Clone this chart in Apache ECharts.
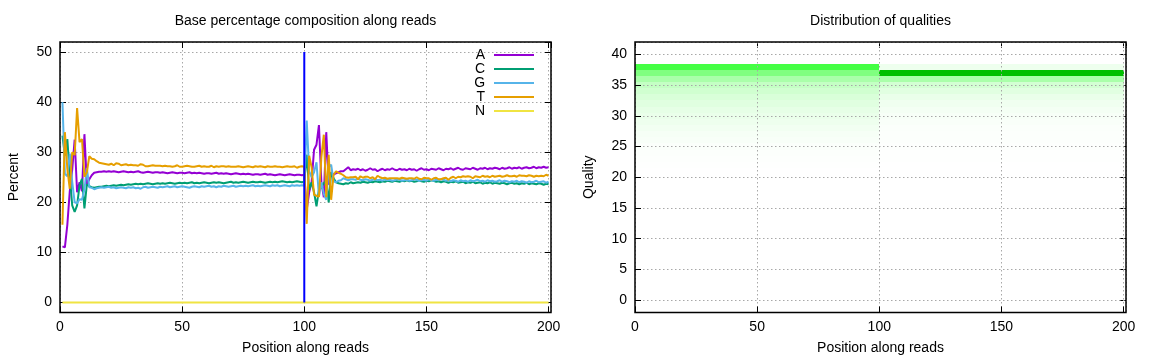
<!DOCTYPE html>
<html><head><meta charset="utf-8">
<script src="https://cdn.jsdelivr.net/npm/echarts@6/dist/echarts.min.js"></script>
<style>html,body{margin:0;padding:0;background:#fff}#c{width:1152px;height:360px}</style>
</head><body><div id="c"></div>
<script>
// ---------- data ----------
const bases = ['A', 'C', 'G', 'T', 'N'];
const baseColors = ['#9400d3', '#009e73', '#56b4e9', '#e69f00', '#f0e442'];

const pctA = [
 11.2,11.0,15.5,22.2,26.5,32.5,22.0,24.0,22.2,33.6,23.6,24.6,25.4,25.9,26.0,26.1,26.1,26.2,26.1,26.2,
 26.1,26.2,26.1,26.0,26.1,26.2,26.1,26.0,26.1,26.0,26.1,26.2,26.0,25.9,26.0,26.1,26.0,25.9,26.0,26.0,
 25.9,26.0,25.9,25.8,25.9,26.0,25.9,25.8,25.9,25.9,25.8,25.9,26.0,25.8,25.9,25.8,25.9,25.8,25.7,25.8,
 25.8,25.7,25.8,25.9,25.7,25.8,25.7,25.8,25.7,25.6,25.7,25.8,25.7,25.6,25.7,25.6,25.7,25.6,25.5,25.6,
 25.6,25.5,25.6,25.7,25.5,25.6,25.5,25.4,25.5,25.6,25.5,25.4,25.5,25.6,25.5,25.4,25.5,25.5,25.4,25.5,
 18.5,22.0,24.0,30.5,31.5,35.4,24.0,21.0,34.0,23.5,26.0,25.5,25.8,26.0,26.2,26.2,26.6,27.0,26.4,26.6,
 26.5,26.7,26.4,26.6,26.3,26.5,26.8,26.5,26.6,26.2,26.5,26.7,26.4,26.6,26.5,26.8,26.5,26.4,26.7,26.5,
 26.6,26.4,26.7,26.5,26.6,26.3,26.6,26.8,26.5,26.6,26.4,26.7,26.6,26.5,26.8,26.6,26.4,26.7,26.6,26.8,
 26.5,26.7,26.9,26.6,26.5,26.8,26.7,26.6,26.9,26.7,26.5,26.8,26.7,26.9,26.6,26.8,26.7,26.9,26.8,26.6,
 26.9,26.7,26.8,27.0,26.7,26.9,26.8,27.0,26.7,26.9,27.0,26.8,26.9,27.1,26.8,27.0,26.9,27.1,26.9,27.0
];
const pctC = [
 33.3,29.3,32.6,25.4,19.4,18.1,19.4,23.4,24.7,18.8,23.6,23.2,23.0,22.9,23.0,23.1,23.1,23.2,23.3,23.2,
 23.3,23.4,23.3,23.4,23.5,23.4,23.5,23.6,23.5,23.6,23.7,23.6,23.7,23.6,23.7,23.8,23.7,23.6,23.7,23.8,
 23.7,23.8,23.7,23.8,23.9,23.8,23.7,23.8,23.9,23.8,23.9,23.8,23.9,24.0,23.8,23.9,23.8,23.9,24.0,23.9,
 23.8,23.9,24.0,23.9,24.0,23.9,23.8,23.9,24.0,24.1,23.9,24.0,23.9,24.0,24.1,24.0,23.9,24.0,24.1,24.0,
 24.0,24.1,24.0,23.9,24.0,24.1,24.0,24.1,24.0,24.1,24.2,24.1,24.0,24.1,24.0,24.1,24.2,24.1,24.0,24.1,
 29.5,22.5,24.0,22.0,19.2,22.5,23.0,23.8,24.5,20.0,26.0,24.8,24.0,23.8,23.7,23.6,23.8,23.7,24.0,23.8,
 23.9,24.0,23.9,24.1,24.0,23.9,24.1,24.0,24.2,24.1,24.0,24.2,24.1,24.3,24.2,24.1,24.3,24.2,24.1,24.3,
 24.2,24.4,24.2,24.3,24.1,24.2,24.4,24.2,24.1,24.3,24.2,24.4,24.3,24.1,24.2,24.0,24.2,24.1,23.9,24.1,
 24.0,24.2,23.9,24.0,24.1,23.8,24.0,23.9,24.1,23.8,23.9,24.0,23.7,23.9,23.8,24.0,23.7,23.9,23.8,23.7,
 23.9,23.8,23.6,23.8,23.9,23.7,23.8,23.6,23.8,23.7,23.9,23.6,23.8,23.7,23.6,23.8,23.7,23.5,23.7,23.6
];
const pctG = [
 40.0,25.7,25.2,29.7,24.1,20.0,19.8,20.6,20.5,22.5,26.8,23.0,22.9,22.6,22.8,22.9,23.0,22.9,23.0,23.1,
 22.9,23.0,22.8,22.9,23.0,22.9,22.8,23.0,22.9,23.0,22.8,22.9,22.7,23.0,23.1,22.9,23.0,23.1,23.0,22.9,
 23.1,23.0,23.1,23.2,23.0,23.1,23.2,23.0,23.1,23.2,23.1,23.0,22.9,23.1,23.2,23.1,23.0,23.2,23.1,23.2,
 23.3,23.1,23.2,23.0,23.2,23.1,23.3,23.2,23.1,23.2,23.3,23.1,23.2,23.3,23.2,23.3,23.2,23.3,23.4,23.2,
 23.3,23.2,23.3,23.4,23.3,23.2,23.4,23.3,23.4,23.2,23.3,23.4,23.3,23.2,23.4,23.3,23.4,23.3,23.4,23.3,
 36.3,26.2,25.0,26.0,28.0,21.1,24.0,21.7,20.5,27.0,27.5,24.2,24.0,24.3,24.4,24.8,24.6,24.4,24.6,24.6,
 24.5,24.7,24.5,24.4,24.6,24.5,24.3,24.5,24.6,24.4,24.5,24.3,24.6,24.4,24.5,24.3,24.4,24.6,24.5,24.3,
 24.4,24.5,24.3,24.4,24.6,24.5,24.3,24.4,24.5,24.3,24.6,24.4,24.3,24.5,24.4,24.6,24.5,24.3,24.4,24.2,
 24.4,24.3,24.1,24.4,24.2,24.3,24.1,24.4,24.2,24.3,24.5,24.2,24.3,24.1,24.4,24.2,24.3,24.1,24.2,24.4,
 24.1,24.3,24.2,24.0,24.2,24.1,24.3,24.0,24.2,24.1,23.9,24.2,24.0,24.1,24.3,24.0,24.1,24.2,23.9,24.1
];
const pctT = [
 15.5,34.0,26.7,22.7,30.0,29.4,38.8,32.0,32.6,25.1,26.0,29.2,28.7,28.6,28.2,27.9,27.8,27.7,27.6,27.5,
 27.7,27.4,27.8,27.7,27.4,27.5,27.6,27.4,27.5,27.4,27.4,27.3,27.6,27.5,27.2,27.2,27.3,27.4,27.3,27.3,
 27.3,27.2,27.3,27.2,27.2,27.1,27.2,27.4,27.1,27.1,27.2,27.3,27.2,27.1,27.1,27.2,27.3,27.1,27.2,27.1,
 27.1,27.3,27.0,27.2,27.1,27.2,27.2,27.1,27.2,27.1,27.1,27.1,27.2,27.1,27.0,27.1,27.2,27.1,27.0,27.2,
 27.1,27.2,27.1,27.0,27.2,27.1,27.1,27.2,27.1,27.1,27.0,27.1,27.2,27.1,27.1,27.2,26.9,27.1,27.2,27.1,
 15.7,29.3,27.0,21.5,21.3,21.1,29.0,33.5,21.0,29.5,20.5,25.5,26.2,25.9,25.7,25.4,25.0,24.9,25.0,25.0,
 25.1,24.6,25.2,24.9,25.1,25.1,24.8,25.0,24.6,25.3,25.0,24.8,24.9,24.7,24.8,24.8,24.8,24.8,24.7,24.9,
 24.8,24.7,24.8,24.8,24.7,25.0,24.7,24.6,24.9,24.8,24.8,24.5,24.8,24.9,24.6,24.6,24.8,24.9,24.5,24.9,
 25.1,24.8,25.1,25.0,25.2,25.1,25.2,25.1,24.8,25.2,25.1,25.0,25.3,25.1,25.2,25.0,25.3,25.1,25.2,25.3,
 25.1,25.2,25.4,25.2,25.2,25.3,25.1,25.4,25.3,25.3,25.2,25.4,25.3,25.1,25.3,25.2,25.3,25.2,25.5,25.3
];
const pctN = [
 0,0,0,0,0,0,0,0,0,0,0,0,0,0,0,0,0,0,0,0,
 0,0,0,0,0,0,0,0,0,0,0,0,0,0,0,0,0,0,0,0,
 0,0,0,0,0,0,0,0,0,0,0,0,0,0,0,0,0,0,0,0,
 0,0,0,0,0,0,0,0,0,0,0,0,0,0,0,0,0,0,0,0,
 0,0,0,0,0,0,0,0,0,0,0,0,0,0,0,0,0,0,0,0,
 0,0,0,0,0,0,0,0,0,0,0,0,0,0,0,0,0,0,0,0,
 0,0,0,0,0,0,0,0,0,0,0,0,0,0,0,0,0,0,0,0,
 0,0,0,0,0,0,0,0,0,0,0,0,0,0,0,0,0,0,0,0,
 0,0,0,0,0,0,0,0,0,0,0,0,0,0,0,0,0,0,0,0,
 0,0,0,0,0,0,0,0,0,0,0,0,0,0,0,0,0,0,0,0
];
const firstPosition = 1;

// read boundary marker (vertical blue line)
const boundaryX = [100, 100];
const boundaryY = [0, 50];

// quality distribution: two read segments, density per quality level
const segmentStart = [0, 100];
const segmentEnd = [100, 200];
const qualityLevels = [38, 37, 36, 35, 34, 33, 32, 31, 30, 29, 28, 27, 26, 25, 24, 23, 22];
const read1Density = [0.22, 0.15, 0.10, 0.07, 0.055, 0.045, 0.037, 0.03, 0.025, 0.02, 0.015, 0.011, 0.008, 0.005, 0.003, 0.002, 0.001];
const read2Density = [0.02, 0.47, 0.10, 0.052, 0.035, 0.025, 0.018, 0.013, 0.01, 0.007, 0.005, 0.004, 0.003, 0.002, 0.001, 0.001, 0.0];

// ---------- chart ----------
const FONT = '"Liberation Sans", Arial, Helvetica, sans-serif';
const TXT = { color: '#000', fontFamily: FONT, fontSize: 14 };
const GRIDLINE = { show: true, lineStyle: { color: '#a8a8a8', width: 1, type: [1.5, 2.5] } };
function tick() { return { show: true, inside: true, length: 6, lineStyle: { color: '#000', width: 1 } }; }
function noLine() { return { show: false, onZero: false }; }

const percentSeries = [pctA, pctC, pctG, pctT, pctN];
const chart = echarts.init(document.getElementById('c'), null, { renderer: 'canvas' });

function xMain(grid, z) {
  return { type: 'value', gridIndex: grid, position: 'bottom', min: 0, max: 201, z: z,
    name: 'Position along reads', nameLocation: 'middle', nameGap: 28.5, nameTextStyle: TXT,
    axisLine: noLine(), axisTick: tick(),
    axisLabel: Object.assign({ margin: 8, showMaxLabel: false, showMinLabel: true }, TXT),
    splitLine: GRIDLINE };
}
function xMirror(grid) {
  return { type: 'value', gridIndex: grid, position: 'top', min: 0, max: 201,
    axisLine: noLine(), axisTick: tick(), axisLabel: { show: false }, splitLine: { show: false } };
}
function yMain(grid, min, max, split, name, z) {
  return { type: 'value', gridIndex: grid, position: 'left', min: min, max: max, splitNumber: split, z: z,
    name: name, nameLocation: 'middle', nameGap: 39, nameTextStyle: TXT,
    axisLine: noLine(), axisTick: tick(),
    axisLabel: Object.assign({ margin: 8, showMaxLabel: false, showMinLabel: false }, TXT),
    splitLine: GRIDLINE };
}
function yMirror(grid, min, max, split) {
  return { type: 'value', gridIndex: grid, position: 'right', min: min, max: max, splitNumber: split,
    axisLine: noLine(), axisTick: tick(), axisLabel: { show: false }, splitLine: { show: false } };
}

const series = bases.map((b, k) => ({
  name: b, type: 'line', xAxisIndex: 0, yAxisIndex: 0,
  data: percentSeries[k].map((v, i) => [i + firstPosition, v]),
  showSymbol: false, symbol: 'none', color: baseColors[k],
  lineStyle: { color: baseColors[k], width: 2 }, itemStyle: { color: baseColors[k] },
  emphasis: { disabled: true }, silent: true, animation: false, z: 2
}));
series.push({
  name: 'boundary', type: 'line', xAxisIndex: 0, yAxisIndex: 0,
  data: boundaryX.map((x, i) => [x, boundaryY[i]]),
  showSymbol: false, symbol: 'none', lineStyle: { color: '#0000ff', width: 2 },
  emphasis: { disabled: true }, silent: true, animation: false, z: 3
});
const heatData = [];
qualityLevels.forEach((q, k) => {
  heatData.push([segmentStart[0], segmentEnd[0], q, read1Density[k]]);
  heatData.push([segmentStart[1], segmentEnd[1], q, read2Density[k]]);
});
series.push({
  name: 'quality', type: 'custom', xAxisIndex: 2, yAxisIndex: 2,
  data: heatData, encode: { x: [0, 1], y: 2 }, silent: true, animation: false, z: 1,
  renderItem: function (params, api) {
    const a = api.coord([api.value(0), api.value(2) + 0.5]);
    const b = api.coord([api.value(1), api.value(2) - 0.5]);
    const x0 = Math.round(a[0]), x1 = Math.round(b[0]);
    const y0 = Math.round(a[1]), y1 = Math.round(b[1]);
    return { type: 'rect', shape: { x: x0, y: y0, width: x1 - x0, height: y1 - y0 },
      style: { fill: api.visual('color') } };
  }
});

chart.setOption({
  animation: false,
  backgroundColor: '#fff',
  textStyle: { fontFamily: FONT },
  title: [
    { text: 'Base percentage composition along reads', left: 305.5, top: 14, textAlign: 'center', padding: 0,
      textStyle: Object.assign({ fontWeight: 'normal' }, TXT) },
    { text: 'Distribution of qualities', left: 880.5, top: 14, textAlign: 'center', padding: 0,
      textStyle: Object.assign({ fontWeight: 'normal' }, TXT) }
  ],
  legend: {
    data: bases, orient: 'vertical', align: 'right', right: 618, top: 48, padding: 0,
    itemWidth: 40, itemHeight: 2, itemGap: 0, icon: 'rect', itemStyle: { borderWidth: 0 },
    textStyle: TXT, formatter: function (n) { return n + ' '; }, selectedMode: false
  },
  grid: [
    { left: 60, top: 42, width: 491, height: 272.5, show: true, borderColor: '#000', borderWidth: 1.5, backgroundColor: 'transparent', z: 10 },
    { left: 635, top: 42, width: 491, height: 272.5, show: true, borderColor: '#000', borderWidth: 1.5, backgroundColor: 'transparent', z: 10 }
  ],
  xAxis: [xMain(0, 0), xMirror(0), xMain(1, 5), xMirror(1)],
  yAxis: [yMain(0, -2, 52, 5, 'Percent', 0), yMirror(0, -2, 52, 5),
          yMain(1, -2, 42, 9, 'Quality', 5), yMirror(1, -2, 42, 9)],
  visualMap: {
    type: 'continuous', show: false, seriesIndex: 6, dimension: 3, min: 0, max: 0.6,
    inRange: { color: ['#ffffff', '#00ff00', '#009000'] }
  },
  series: series
});
</script>
</body></html>
